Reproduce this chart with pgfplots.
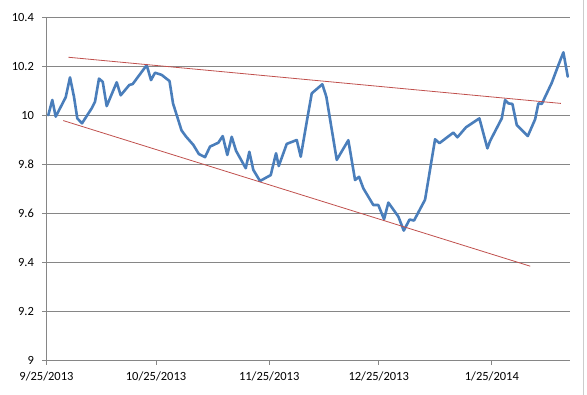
\documentclass[border=0pt]{standalone}
\usepackage{pgfplots}
\pgfplotsset{compat=1.18}
\usepackage{fontspec}
\setmainfont{Carlito}
\definecolor{xlblue}{HTML}{4A7EBB}
\definecolor{xlred}{HTML}{C0504D}
\definecolor{xlgrid}{HTML}{868686}
\begin{document}
\begin{tikzpicture}[x=1pt,y=1pt]
\path[use as bounding box] (-46.5,-34.3) rectangle (540.5,360.7);
\draw[gray!40, line width=0.8pt] (537,-34.3) -- (537,360.7);
\begin{axis}[
  scale only axis, width=523.5pt, height=343.7pt,
  at={(0,0)}, anchor=south west,
  xmin=0, xmax=143.4, ymin=9, ymax=10.4,
  axis lines*=left,
  axis line style={xlgrid, line width=0.8pt},
  xtick={0,30,61,91,122},
  xticklabels={9/25/2013,10/25/2013,11/25/2013,12/25/2013,1/25/2014},
  ytick={9,9.2,9.4,9.6,9.8,10,10.2,10.4},
  ymajorgrids, grid style={xlgrid, line width=0.8pt},
  tick align=outside, major tick length=4pt,
  tick style={xlgrid, line width=0.8pt},
  /pgf/number format/assume math mode=true,
  ticklabel style={font=\fontsize{12.5}{14}\selectfont, text=black},
  xticklabel style={yshift=-4pt},
  yticklabel style={xshift=-5pt},
  clip=false,
]
\addplot[xlblue, line width=2.6pt, line join=round, line cap=round] coordinates {
(0.49,10.000) (1.59,10.062) (2.52,9.994) (5.26,10.073) (6.44,10.154) (7.53,10.075)
(8.44,9.987) (9.73,9.967) (12.38,10.028) (13.29,10.055) (14.38,10.149) (15.40,10.136)
(16.49,10.037) (19.23,10.134) (20.33,10.081) (22.68,10.123) (23.62,10.127) (27.45,10.204)
(28.63,10.143) (29.73,10.173) (31.56,10.164) (33.70,10.139) (34.66,10.048) (36.99,9.938)
(38.22,9.913) (40.22,9.879) (41.73,9.842) (43.42,9.829) (44.79,9.872) (47.07,9.888)
(48.27,9.915) (49.53,9.838) (50.74,9.912) (51.92,9.855) (54.58,9.784) (55.56,9.851)
(56.66,9.777) (58.49,9.732) (61.42,9.756) (62.88,9.845) (63.62,9.793) (65.81,9.883)
(68.55,9.899) (69.64,9.831) (71.45,9.987) (72.66,10.089) (75.56,10.126) (76.66,10.075)
(79.51,9.818) (82.68,9.898) (84.52,9.736) (85.62,9.749) (86.79,9.702) (89.53,9.634)
(90.90,9.634) (92.47,9.576) (93.64,9.644) (96.38,9.587) (97.86,9.530) (99.45,9.575)
(100.68,9.571) (103.70,9.656) (106.44,9.902) (107.62,9.886) (111.45,9.929) (112.55,9.910)
(114.93,9.951) (118.58,9.987) (120.77,9.865) (121.51,9.895) (124.71,9.987) (125.62,10.062)
(126.52,10.048) (127.62,10.046) (128.82,9.960) (131.84,9.915) (133.84,9.983) (134.74,10.048)
(135.67,10.046) (138.41,10.132) (140.22,10.204) (141.59,10.256) (142.79,10.157)
};
\addplot[xlred, line width=0.8pt] coordinates {(6.0,10.236) (140.9,10.048)};
\addplot[xlred, line width=0.8pt] coordinates {(4.6,9.978) (132.5,9.385)};
\end{axis}
\end{tikzpicture}
\end{document}
